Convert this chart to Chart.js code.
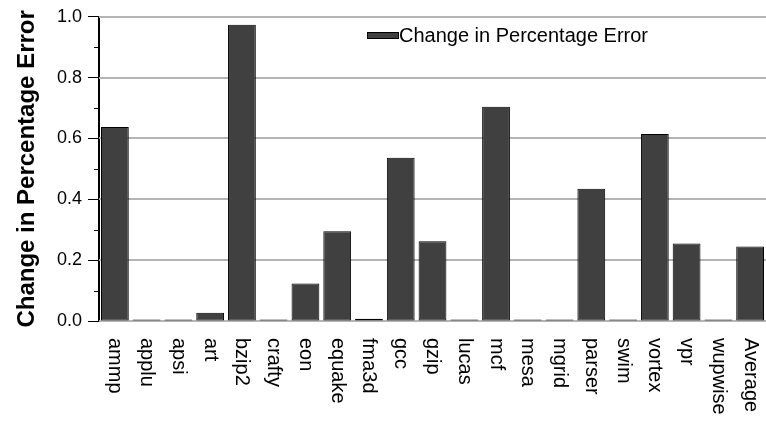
<!DOCTYPE html>
<html>
<head>
<meta charset="utf-8">
<script src="https://cdn.jsdelivr.net/npm/chart.js@4/dist/chart.umd.min.js"></script>
<style>
  html, body { margin: 0; padding: 0; background: #ffffff; }
  canvas { display: block; }
</style>
</head>
<body>
<canvas id="chart" width="766" height="421"></canvas>
<script>
// Benchmarks on the horizontal axis
const benchmarks = ['ammp', 'applu', 'apsi', 'art', 'bzip2', 'crafty', 'eon', 'equake',
  'fma3d', 'gcc', 'gzip', 'lucas', 'mcf', 'mesa', 'mgrid', 'parser', 'swim', 'vortex',
  'vpr', 'wupwise', 'Average'];

// Change in percentage error per benchmark
const errorChange = [0.638, 0.005, 0.005, 0.027, 0.974, 0.005, 0.123, 0.295,
  0.007, 0.537, 0.262, 0.005, 0.704, 0.005, 0.005, 0.435, 0.005, 0.615,
  0.255, 0.005, 0.245];

const seriesName = 'Change in Percentage Error';
const yAxisTitle = 'Change in Percentage Error';
const yRange = [0, 1.0];
const yMajorStep = 0.2;
const yMinorTicks = [0.1, 0.3, 0.5, 0.7, 0.9];

const FONT = '"Liberation Sans", Arial, Helvetica, sans-serif';
const BAR_FILL = '#404040';

// Short outward ticks between the labelled ones
const minorTickPlugin = {
  id: 'minorTicks',
  afterDraw(chart) {
    const y = chart.scales.y;
    const ctx = chart.ctx;
    const x0 = chart.chartArea.left;
    ctx.save();
    ctx.strokeStyle = '#000';
    ctx.lineWidth = 1;
    yMinorTicks.forEach(v => {
      const py = Math.round(y.getPixelForValue(v)) + 0.5;
      ctx.beginPath();
      ctx.moveTo(x0 - 5, py);
      ctx.lineTo(x0, py);
      ctx.stroke();
    });
    ctx.restore();
  }
};

// Horizontal reference lines at the labelled values, under the bars
const gridLinePlugin = {
  id: 'gridLines',
  beforeDatasetsDraw(chart) {
    const y = chart.scales.y;
    const ctx = chart.ctx;
    const left = chart.chartArea.left;
    const right = chart.width;
    ctx.save();
    ctx.strokeStyle = '#b4b4b4';
    ctx.lineWidth = 2;
    y.ticks.forEach(t => {
      const py = Math.round(y.getPixelForValue(t.value));
      ctx.beginPath();
      ctx.moveTo(left, py);
      ctx.lineTo(right, py);
      ctx.stroke();
    });
    ctx.restore();
  }
};

// Category names written downward under each bar
const categoryLabelPlugin = {
  id: 'categoryLabels',
  afterDraw(chart) {
    const xs = chart.scales.x;
    const ctx = chart.ctx;
    const top = chart.chartArea.bottom + 17;
    ctx.save();
    ctx.fillStyle = '#000';
    ctx.font = '20px ' + FONT;
    ctx.textAlign = 'left';
    ctx.textBaseline = 'middle';
    chart.data.labels.forEach((name, i) => {
      const px = xs.getPixelForValue(i);
      ctx.save();
      ctx.translate(px, top);
      ctx.rotate(Math.PI / 2);
      ctx.fillText(name, 0, 0);
      ctx.restore();
    });
    ctx.restore();
  }
};

// Legend entry drawn inside the plot area
const insideLegendPlugin = {
  id: 'insideLegend',
  afterDraw(chart) {
    const ctx = chart.ctx;
    const ds = chart.data.datasets[0];
    ctx.save();
    ctx.fillStyle = ds.backgroundColor;
    ctx.strokeStyle = '#000';
    ctx.lineWidth = 1;
    ctx.fillRect(367.5, 32.5, 31, 6);
    ctx.strokeRect(367.5, 32.5, 31, 6);
    ctx.fillStyle = '#000';
    ctx.font = '20px ' + FONT;
    ctx.textAlign = 'left';
    ctx.textBaseline = 'middle';
    ctx.fillText(ds.label, 399, 36);
    ctx.restore();
  }
};

new Chart(document.getElementById('chart'), {
  type: 'bar',
  data: {
    labels: benchmarks,
    datasets: [{
      label: seriesName,
      data: errorChange,
      backgroundColor: BAR_FILL,
      borderColor: '#000',
      borderWidth: 1,
      borderSkipped: false,
      barPercentage: 0.875,
      categoryPercentage: 1.0
    }]
  },
  options: {
    responsive: false,
    animation: false,
    devicePixelRatio: 1,
    layout: { padding: { top: 15, right: -5, bottom: 0, left: 0 } },
    plugins: {
      legend: { display: false },
      tooltip: { enabled: false }
    },
    scales: {
      x: {
        type: 'category',
        offset: true,
        grid: { display: false },
        border: { display: false },
        ticks: { display: false },
        afterFit(scale) { scale.height = 100; }
      },
      y: {
        min: yRange[0],
        max: yRange[1],
        afterFit(scale) { scale.width = 99; },
        ticks: {
          stepSize: yMajorStep,
          color: '#000',
          padding: 6,
          font: { family: FONT, size: 18 },
          callback: v => Number(v).toFixed(1)
        },
        grid: {
          drawOnChartArea: false,
          color: '#000',
          tickColor: '#000',
          tickLength: 11,
          tickWidth: 1
        },
        border: { display: true, color: '#000', width: 2 },
        title: {
          display: true,
          text: yAxisTitle,
          color: '#000',
          font: { family: FONT, size: 24, weight: 'bold' },
          padding: { top: 13, bottom: 0 }
        }
      }
    }
  },
  plugins: [gridLinePlugin, minorTickPlugin, categoryLabelPlugin, insideLegendPlugin]
});
</script>
</body>
</html>
